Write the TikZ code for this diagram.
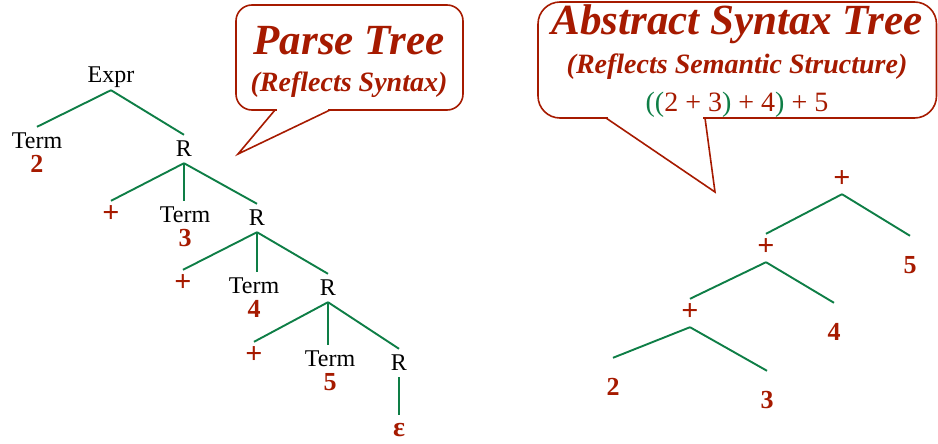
\documentclass[tikz,border=0pt]{standalone}
\usepackage{fontspec}
\setmainfont{Liberation Serif}
\usetikzlibrary{positioning}
\definecolor{darkred}{RGB}{166,26,0}
\definecolor{branchgreen}{RGB}{14,126,70}

\begin{document}
\begin{tikzpicture}[x=1pt,y=-1pt,
    treenode/.style={inner sep=1pt, text height=20pt, text depth=6pt, anchor=base,
      font=\fontsize{24}{28}\selectfont},
    op/.style={treenode, text=darkred, font=\fontsize{26}{28}\selectfont\bfseries},
    plus/.style={op, font=\fontsize{30}{30}\selectfont\bfseries},
    leaf/.style={op, text height=36pt},
    branch/.style={draw=branchgreen, line width=1.9pt},
    bubble/.style={draw=darkred, line width=1.6pt},
    title/.style={anchor=base, inner sep=0pt, text=darkred,
      font=\fontsize{43}{48}\selectfont\bfseries\itshape},
    subtitle/.style={title, font=\fontsize{28}{32}\selectfont\bfseries\itshape},
    formula/.style={anchor=base, inner sep=0pt, text=darkred,
      font=\fontsize{28}{32}\selectfont}]
  \useasboundingbox (0,0) rectangle (938,444);

  % parse tree bubble
  \draw[bubble, rounded corners=16pt] (236,5) rectangle (463,110);
  \fill[white] (277,107) rectangle (328,113);
  \draw[bubble] (275,110) -- (238,154) -- (330,110);
  \node[title] (ptitle) at (349,55) {Parse Tree};
  \node[subtitle] (psub) at (349,92) {(Reflects Syntax)};

  % abstract syntax tree bubble
  \draw[bubble, rounded corners=22pt] (538,2) rectangle (936.5,118);
  \fill[white] (608,115) rectangle (703,121);
  \draw[bubble] (606,118) -- (715,192) -- (705,118);
  \node[title] (atitle) at (737,35) {Abstract Syntax Tree};
  \node[subtitle] (asub) at (737,74) {(Reflects Semantic Structure)};
  \node[formula] (aform) at (737,112) {{\color{branchgreen}((}2 + 3{\color{branchgreen})} + 4{\color{branchgreen})} + 5};

  % parse tree
  \node[treenode] (expr) at (111,83) {Expr};
  \node[treenode] (t1) at (37,148) {Term};
  \node[op, below=-4pt of t1] (n1) {2};
  \node[treenode] (r1) at (184,156) {R};

  \node[plus] (p1) at (111,222) {+};
  \node[treenode] (t2) at (185,222) {Term};
  \node[op, below=-4pt of t2] (n2) {3};
  \node[treenode] (r2) at (257,225) {R};

  \node[plus] (p2) at (183,291) {+};
  \node[treenode] (t3) at (254,293) {Term};
  \node[op, below=-4pt of t3] (n3) {4};
  \node[treenode] (r3) at (328,295) {R};

  \node[plus] (p3) at (254,363) {+};
  \node[treenode] (t4) at (330,366) {Term};
  \node[op, below=-4pt of t4] (n4) {5};
  \node[treenode] (r4) at (399,370) {R};
  \node[op, text depth=1pt, inner sep=0.5pt, font=\fontsize{28}{28}\selectfont\bfseries] (eps) at (399,436) {ε};

  \draw[branch] (expr.south) -- (t1.north);
  \draw[branch] (expr.south) -- (r1.north);
  \draw[branch] (r1.south) -- (p1.north);
  \draw[branch] (r1.south) -- (r1.south |- t2.north);
  \draw[branch] (r1.south) -- (r2.north);
  \draw[branch] (r2.south) -- (p2.north);
  \draw[branch] (r2.south) -- (r2.south |- t3.north);
  \draw[branch] (r2.south) -- (r3.north);
  \draw[branch] (r3.south) -- (p3.north);
  \draw[branch] (r3.south) -- (r3.south |- t4.north);
  \draw[branch] (r3.south) -- (r4.north);
  \draw[branch] (r4.south) -- (r4.south |- eps.north);

  % abstract syntax tree
  \node[plus] (a1) at (842,187) {+};
  \node[plus] (a2) at (766,255) {+};
  \node[leaf] (l5) at (910,273) {5};
  \node[plus] (a3) at (690,320) {+};
  \node[leaf] (l4) at (834,340) {4};
  \node[leaf] (l2) at (613,395) {2};
  \node[leaf] (l3) at (767,408) {3};

  \draw[branch] (a1.south) -- (a2.north);
  \draw[branch] (a1.south) -- (l5.north);
  \draw[branch] (a2.south) -- (a3.north);
  \draw[branch] (a2.south) -- (l4.north);
  \draw[branch] (a3.south) -- (l2.north);
  \draw[branch] (a3.south) -- (l3.north);
\end{tikzpicture}
\end{document}
